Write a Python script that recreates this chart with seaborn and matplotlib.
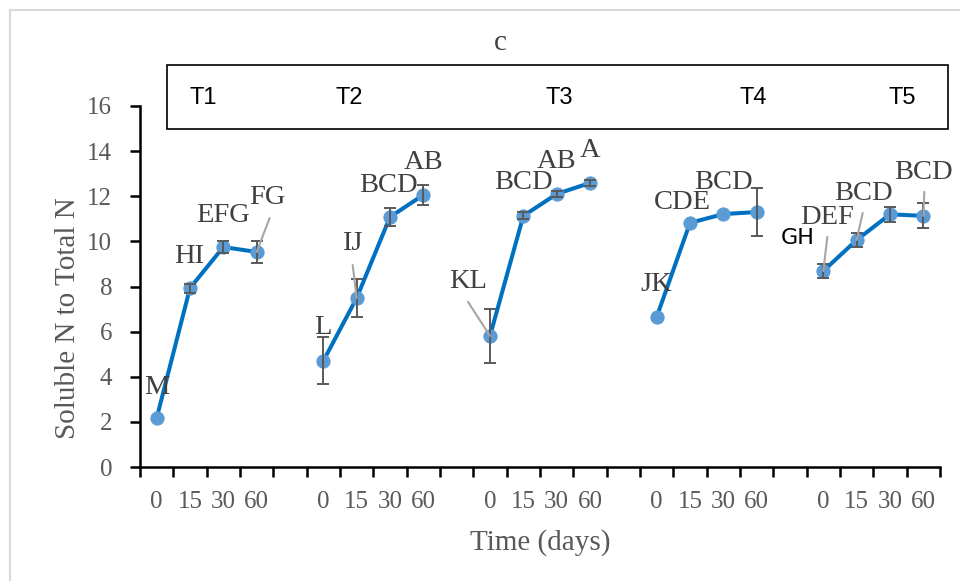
import numpy as np
import pandas as pd
import matplotlib
matplotlib.use("Agg")
import matplotlib.pyplot as plt
from matplotlib.patches import Rectangle
import seaborn as sns

# ---------------- data ----------------
treatments = ["T1", "T2", "T3", "T4", "T5"]
days = ["0", "15", "30", "60"]
t1_vals = [2.17, 7.93, 9.75, 9.53]
t2_vals = [4.70, 7.49, 11.08, 12.06]
t3_vals = [5.81, 11.13, 12.10, 12.59]
t4_vals = [6.65, 10.82, 11.21, 11.30]
t5_vals = [8.69, 10.06, 11.20, 11.13]
t1_err = [0.0, 0.20, 0.25, 0.50]
t2_err = [1.04, 0.84, 0.42, 0.44]
t3_err = [1.18, 0.15, 0.15, 0.15]
t4_err = [0.0, 0.0, 0.0, 1.06]
t5_err = [0.30, 0.33, 0.33, 0.55]
t1_letters = ["M", "HI", "EFG", "FG"]
t2_letters = ["L", "IJ", "BCD", "AB"]
t3_letters = ["KL", "BCD", "AB", "A"]
t4_letters = ["JK", "CDE", "BCD", ""]
t5_letters = ["GH", "DEF", "BCD", "BCD"]
title = "c"
y_label = "Soluble N to Total N"
x_label = "Time (days)"

values = [t1_vals, t2_vals, t3_vals, t4_vals, t5_vals]
errors = [t1_err, t2_err, t3_err, t4_err, t5_err]
letters = [t1_letters, t2_letters, t3_letters, t4_letters, t5_letters]

# category positions: 4 days per treatment, one empty slot between treatments
rows = []
for g, tr in enumerate(treatments):
    for j, d in enumerate(days):
        rows.append(dict(treatment=tr, day=d, pos=g * 5 + j,
                         value=values[g][j], err=errors[g][j],
                         letter=letters[g][j]))
df = pd.DataFrame(rows)

# ---------------- layout/style (pixel offsets of letter labels) ----------------
label_offsets = {
    (0, 0): (0, 31), (0, 1): (-1, 32), (0, 2): (0, 32), (0, 3): (11, 54),
    (1, 0): (0, 33), (1, 1): (-4, 55), (1, 2): (-2, 32), (1, 3): (0, 32),
    (2, 0): (-22, 54), (2, 1): (0, 33), (2, 2): (0, 32), (2, 3): (0, 32),
    (3, 0): (0, 32), (3, 1): (-8, 20), (3, 2): (0, 32), (3, 3): (0, 32),
    (4, 0): (-26, 33), (4, 1): (-30, 23), (4, 2): (-27, 21), (4, 3): (0, 43),
}
# leader line start offsets (pixels from the point)
leaders = {(0, 3): (13, 34), (1, 1): (-4, 33), (2, 0): (-22, 34),
           (4, 0): (4, 34), (4, 1): (6, 27), (4, 3): (1, 24)}
sans_labels = {(4, 0)}

W, H = 960, 581
sns.set_theme(style="white")
plt.rcParams["font.family"] = ["Liberation Serif", "DejaVu Serif"]
fig = plt.figure(figsize=(W / 100, H / 100), dpi=100)

ax_l, ax_r, ax_t, ax_b = 140, 940, 106, 467
ax = fig.add_axes([ax_l / W, 1 - ax_b / H, (ax_r - ax_l) / W, (ax_b - ax_t) / H])

line_col = "#0070C0"
mark_col = "#5B9BD5"
txt_col = "#595959"
lab_col = "#404040"

sns.lineplot(data=df, x="pos", y="value", hue="treatment",
             palette=[line_col] * len(treatments), legend=False, ax=ax,
             linewidth=2.9, marker="o", markersize=9.5,
             markerfacecolor=mark_col, markeredgecolor=mark_col, zorder=3)
eb = df[df["err"] > 0]
ax.errorbar(eb["pos"], eb["value"], yerr=eb["err"], fmt="none",
            ecolor="#595959", elinewidth=1.4, capsize=4.3, capthick=1.4, zorder=4)

ax.set_xlim(-0.5, len(treatments) * 5 - 1.5)
ax.set_ylim(0, 16)
ax.set_yticks(np.arange(0, 17, 2))
ax.set_xticks(df["pos"])
ax.set_xticklabels(df["day"])
ax.set_xticks(np.arange(-0.5, len(treatments) * 5 - 1, 1.0), minor=True)
ax.tick_params(axis="x", which="major", length=0, pad=17, labelsize=18, labelcolor=txt_col)
ax.tick_params(axis="x", which="minor", length=7, width=1.8, color="black", direction="out", bottom=True)
ax.tick_params(axis="y", which="major", length=7, width=1.8, color="black", direction="out",
               left=True, pad=13, labelsize=18, labelcolor=txt_col)
for s in ["top", "right"]:
    ax.spines[s].set_visible(False)
for s in ["left", "bottom"]:
    ax.spines[s].set_color("black")
    ax.spines[s].set_linewidth(1.8)
ax.set_xlabel(x_label, fontsize=21, color=txt_col, labelpad=12)
ax.set_ylabel(y_label, fontsize=21, color=txt_col, va="center")
ax.yaxis.set_label_coords((68 - ax_l) / (ax_r - ax_l), (ax_b - 318) / (ax_b - ax_t))
ax.grid(False)

for _, r in df.iterrows():
    if not r["letter"]:
        continue
    g = treatments.index(r["treatment"])
    j = days.index(r["day"])
    dx, dy = label_offsets[(g, j)]
    if (g, j) in sans_labels:
        fp = dict(family="DejaVu Sans", fontsize=16, color="black")
    else:
        fp = dict(fontsize=20.5, color=lab_col)
    ax.annotate(r["letter"], xy=(r["pos"], r["value"]), xytext=(dx, dy),
                textcoords="offset pixels", ha="center", va="center", zorder=5, **fp)
    if (g, j) in leaders:
        lx, ly = leaders[(g, j)]
        ax.annotate("", xy=(r["pos"], r["value"]), xytext=(lx, ly),
                    textcoords="offset pixels",
                    arrowprops=dict(arrowstyle="-", color="#A6A6A6", lw=1.5,
                                    shrinkA=0, shrinkB=0), zorder=5)

# title
fig.text(500 / W, 1 - 43 / H, title, ha="center", va="center", fontsize=21, color=lab_col)

# treatment box
bx0, by0, bx1, by1 = 167, 65, 948, 129
fig.patches.append(Rectangle((bx0 / W, 1 - by1 / H), (bx1 - bx0) / W, (by1 - by0) / H,
                             transform=fig.transFigure, fill=False, edgecolor="black", lw=1.2))
tx = [203, 349, 559, 753, 902]
for name, x in zip(treatments, tx):
    fig.text(x / W, 1 - 98 / H, name, ha="center", va="center", fontsize=17,
             family="Liberation Sans", color="black")

# outer chart-area border
fig.patches.append(Rectangle((10 / W, -0.05), 1.1, 1 - 10 / H + 0.05,
                             transform=fig.transFigure, fill=False, edgecolor="#D9D9D9", lw=1.5))

fig.savefig("out.png", dpi=100)
